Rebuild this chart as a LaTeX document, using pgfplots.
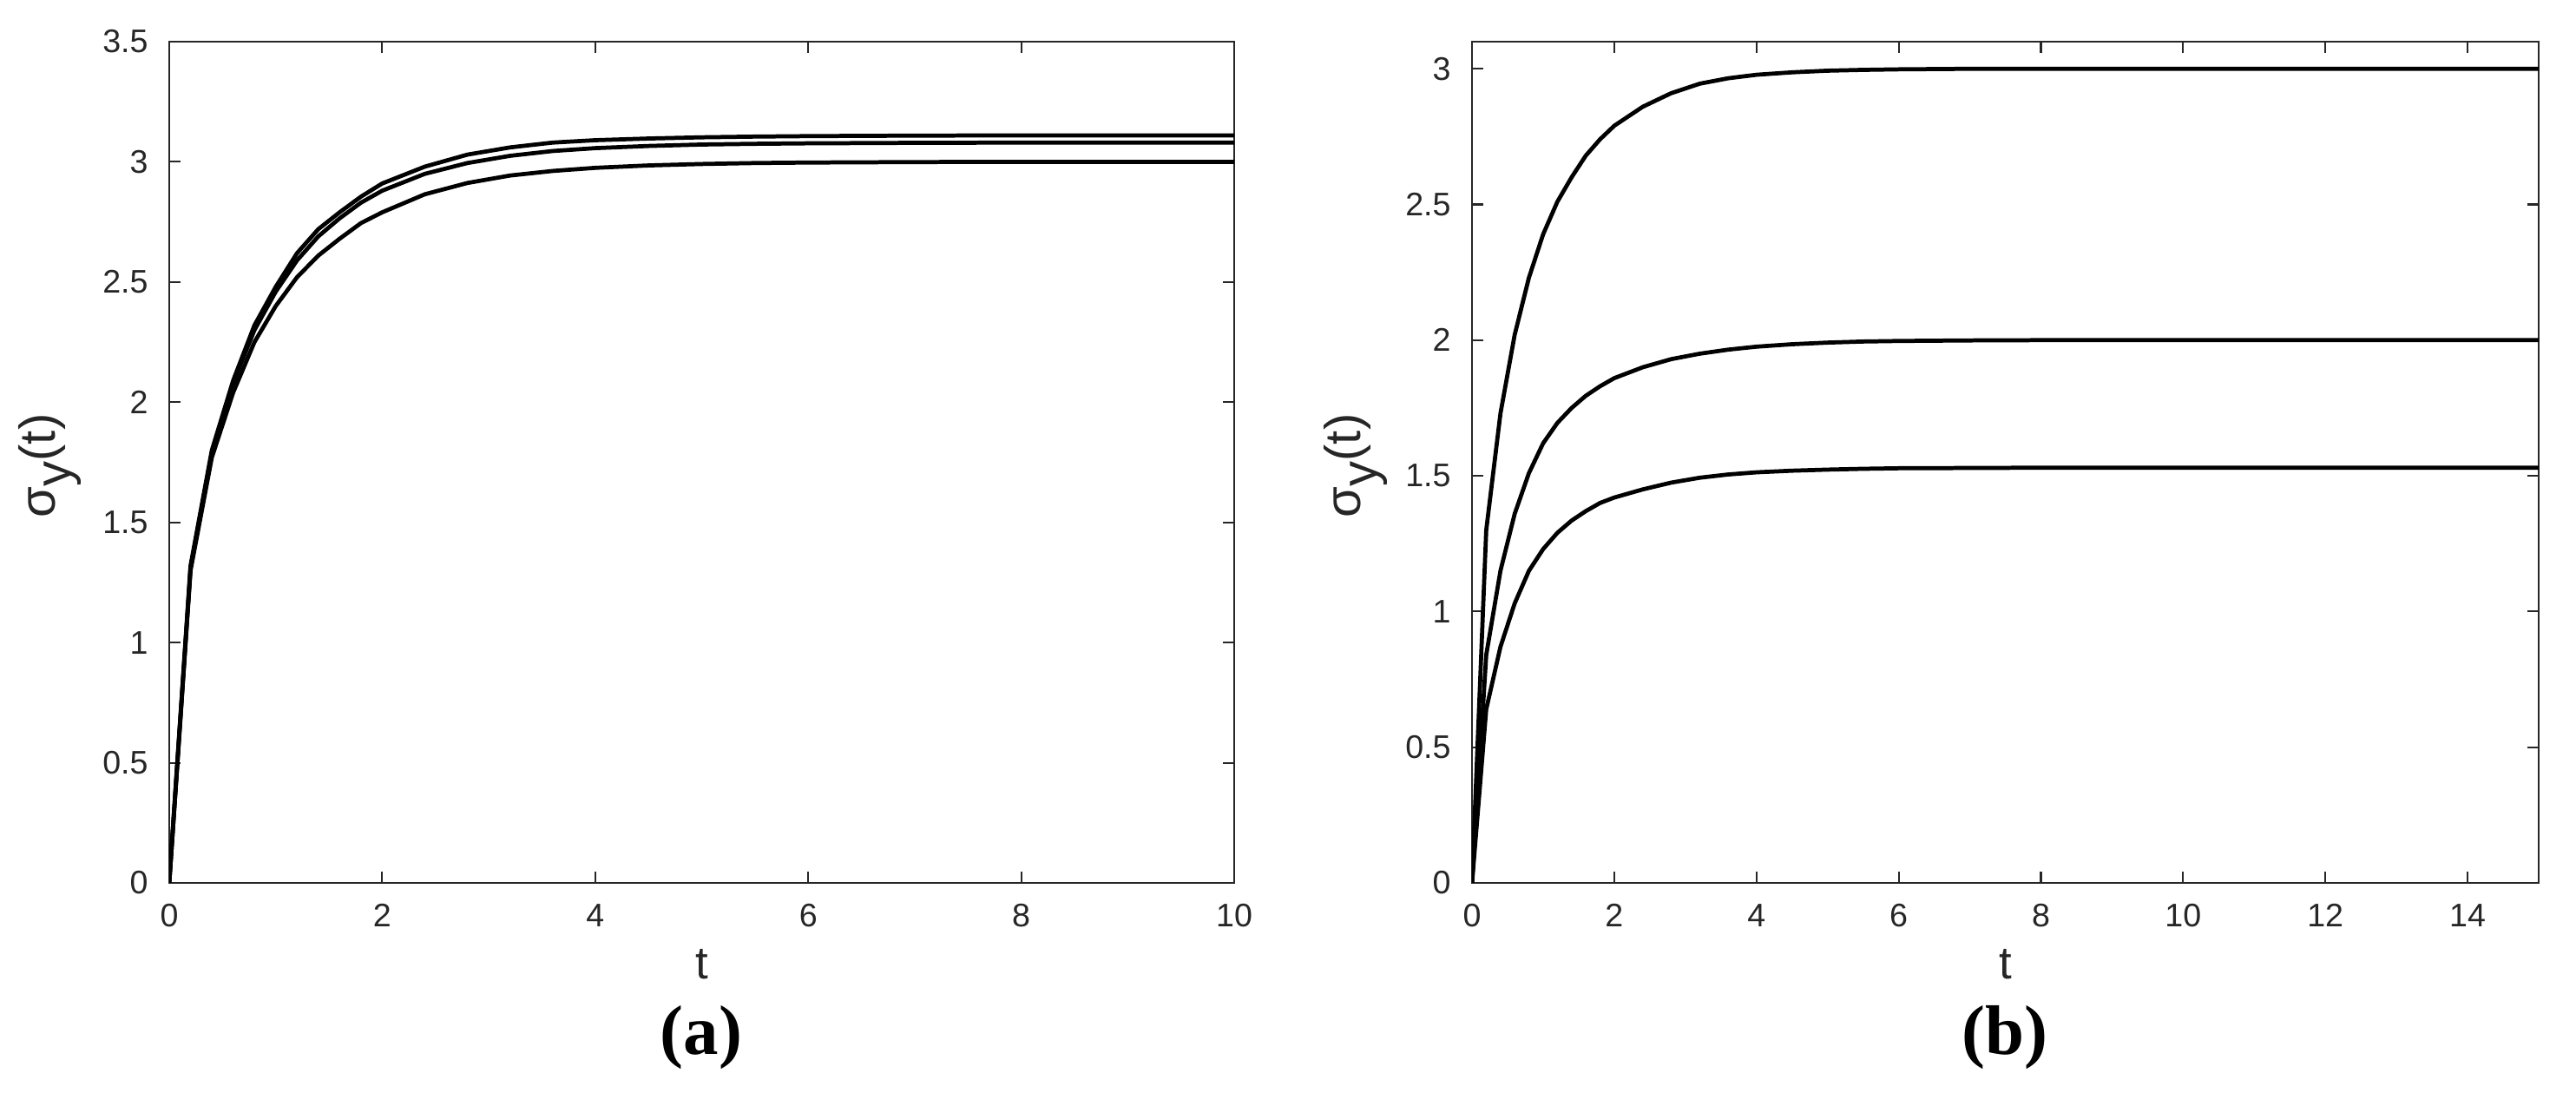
\documentclass[border=0pt]{standalone}
\usepackage{fontspec}
\setmainfont{Liberation Sans}
\newfontfamily\capfont{Liberation Serif}
\usepackage{pgfplots}
\pgfplotsset{compat=1.18}
\definecolor{axgray}{RGB}{38,38,38}

\pgfplotsset{mstyle/.style={
    scale only axis,
    width=12.27cm, height=9.69cm,
    axis line style={axgray, line width=0.6pt},
    tick style={axgray, line width=0.6pt},
    major tick length=0.13cm,
    tick align=inside,
    ticklabel style={font=\fontsize{10.7}{12}\selectfont, text=axgray},
    xticklabel style={yshift=-0.12cm},
    yticklabel style={xshift=-0.12cm},
    /pgf/number format/assume math mode=true,
    xlabel={t},
    ylabel={σ\raisebox{-0.6ex}{y}(t)},
    label style={text=axgray},
    xlabel style={font=\fontsize{15}{17}\selectfont, at={(axis description cs:0.5,-0.097)}, anchor=center},
    ylabel style={font=\fontsize{16.5}{19}\selectfont, at={(axis description cs:-0.112,0.496)}, anchor=center, rotate=0},
}}
\tikzset{curve/.style={black, line width=1.35pt, mark=none, line join=round}}

\begin{document}
\begin{tikzpicture}
\useasboundingbox (0,0) rectangle (29.68,12.59);

% (a)
\begin{axis}[mstyle,
    at={(1.95cm,2.42cm)}, anchor=south west,
    xmin=0, xmax=10, ymin=0, ymax=3.5,
    xtick={0,2,4,6,8,10},
    ytick={0,0.5,1,1.5,2,2.5,3,3.5},
]
\addplot[curve] coordinates {
    (0,0) (0.2,1.32) (0.4,1.80) (0.6,2.09) (0.8,2.32) (1.0,2.48) (1.2,2.62)
    (1.4,2.72) (1.6,2.79) (1.8,2.855) (2.0,2.91) (2.4,2.98) (2.8,3.03)
    (3.2,3.06) (3.6,3.08) (4.0,3.09) (4.5,3.097) (5,3.102) (5.5,3.105)
    (6,3.107) (7,3.109) (8,3.11) (10,3.11)
};
\addplot[curve] coordinates {
    (0,0) (0.2,1.31) (0.4,1.79) (0.6,2.08) (0.8,2.30) (1.0,2.46) (1.2,2.59)
    (1.4,2.69) (1.6,2.765) (1.8,2.83) (2.0,2.88) (2.4,2.95) (2.8,2.995)
    (3.2,3.025) (3.6,3.045) (4.0,3.057) (4.5,3.066) (5,3.072) (5.5,3.075)
    (6,3.077) (7,3.079) (8,3.08) (10,3.08)
};
\addplot[curve] coordinates {
    (0,0) (0.2,1.30) (0.4,1.77) (0.6,2.04) (0.8,2.25) (1.0,2.40) (1.2,2.52)
    (1.4,2.61) (1.6,2.68) (1.8,2.745) (2.0,2.79) (2.4,2.865) (2.8,2.912)
    (3.2,2.943) (3.6,2.962) (4.0,2.975) (4.5,2.985) (5,2.991) (5.5,2.995)
    (6,2.997) (7,2.999) (8,3.0) (10,3.0)
};
\end{axis}

% (b)
\begin{axis}[mstyle,
    at={(16.96cm,2.42cm)}, anchor=south west,
    width=12.29cm,
    xmin=0, xmax=15, ymin=0, ymax=3.1,
    xtick={0,2,4,6,8,10,12,14},
    ytick={0,0.5,1,1.5,2,2.5,3},
    ylabel style={at={(axis description cs:-0.109,0.496)}},
]
\addplot[curve] coordinates {
    (0,0) (0.2,1.30) (0.4,1.73) (0.6,2.02) (0.8,2.23) (1.0,2.39) (1.2,2.51)
    (1.4,2.60) (1.6,2.68) (1.8,2.74) (2.0,2.79) (2.4,2.86) (2.8,2.91)
    (3.2,2.945) (3.6,2.965) (4.0,2.978) (4.5,2.987) (5,2.993) (5.5,2.996)
    (6,2.998) (7,3.0) (8,3.0) (15,3.0)
};
\addplot[curve] coordinates {
    (0,0) (0.2,0.84) (0.4,1.15) (0.6,1.36) (0.8,1.51) (1.0,1.62) (1.2,1.695)
    (1.4,1.75) (1.6,1.795) (1.8,1.83) (2.0,1.86) (2.4,1.90) (2.8,1.93)
    (3.2,1.95) (3.6,1.965) (4.0,1.976) (4.5,1.985) (5,1.991) (5.5,1.995)
    (6,1.997) (7,1.999) (8,2.0) (15,2.0)
};
\addplot[curve] coordinates {
    (0,0) (0.2,0.64) (0.4,0.87) (0.6,1.03) (0.8,1.15) (1.0,1.23) (1.2,1.29)
    (1.4,1.335) (1.6,1.37) (1.8,1.40) (2.0,1.42) (2.4,1.45) (2.8,1.475)
    (3.2,1.493) (3.6,1.505) (4.0,1.513) (4.5,1.519) (5,1.523) (5.5,1.526)
    (6,1.528) (7,1.529) (8,1.53) (15,1.53)
};
\end{axis}

\node[font=\capfont\bfseries\fontsize{23}{26}\selectfont] at (8.08,0.64) {(a)};
\node[font=\capfont\bfseries\fontsize{23}{26}\selectfont] at (23.10,0.64) {(b)};
\end{tikzpicture}
\end{document}
